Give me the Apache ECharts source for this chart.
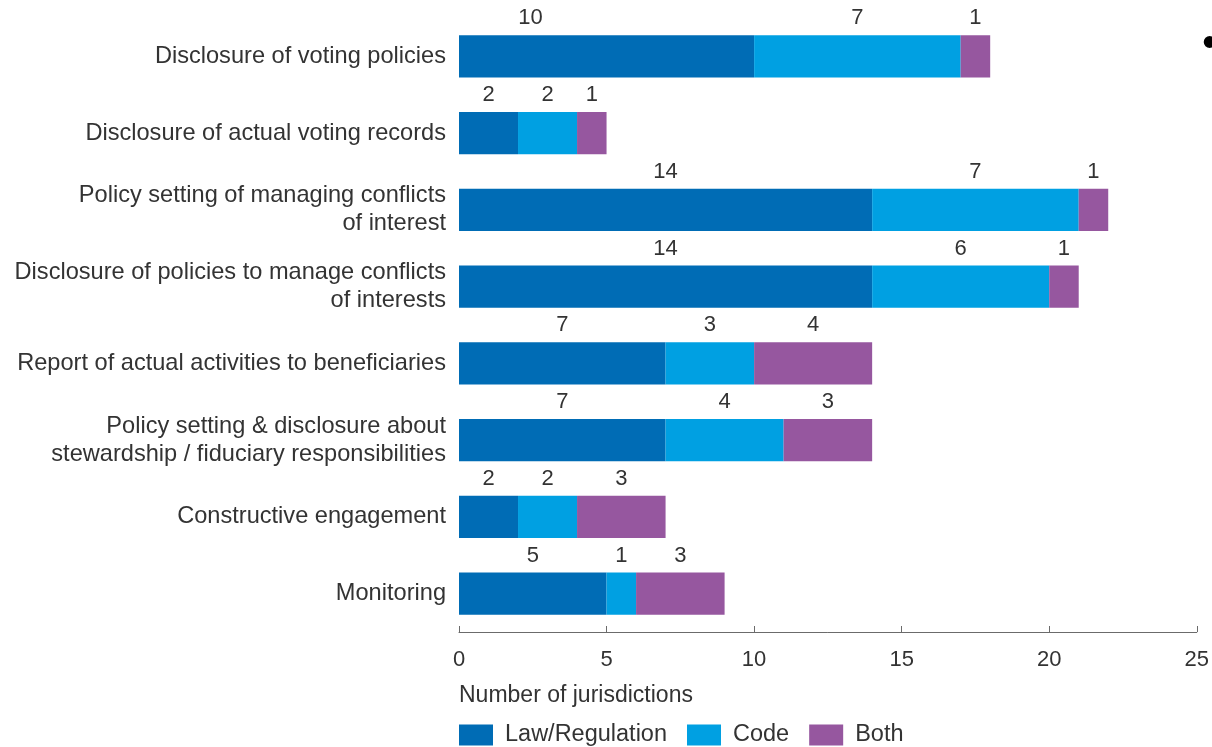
<!DOCTYPE html>
<html>
<head>
<meta charset="utf-8">
<script src="https://cdn.jsdelivr.net/npm/echarts@6/dist/echarts.min.js"></script>
<style>
  html, body { margin: 0; padding: 0; background: #ffffff; }
  #chart { width: 1212px; height: 747px; }
</style>
</head>
<body>
<div id="chart"></div>
<script>
// Stewardship requirements by source of obligation
const categories = [
  'Disclosure of voting policies',
  'Disclosure of actual voting records',
  'Policy setting of managing conflicts\nof interest',
  'Disclosure of policies to manage conflicts\nof interests',
  'Report of actual activities to beneficiaries',
  'Policy setting & disclosure about\nstewardship / fiduciary responsibilities',
  'Constructive engagement',
  'Monitoring'
];
const lawRegulation = [10, 2, 14, 14, 7, 7, 2, 5];
const code = [7, 2, 7, 6, 3, 4, 2, 1];
const both = [1, 1, 1, 1, 4, 3, 3, 3];
const seriesNames = ['Law/Regulation', 'Code', 'Both'];
const xTicks = [0, 5, 10, 15, 20, 25];

const colors = ['#006cb5', '#00a0e2', '#96579f'];
const fontFamily = '"Liberation Sans", Arial, sans-serif';

function buildData(values, seriesIndex) {
  return values.map(function (v, i) {
    const item = { value: v };
    // the first Law/Regulation label sits left of its segment centre
    if (seriesIndex === 0 && i === 0) item.label = { offset: [-76, 0] };
    return item;
  });
}

const chart = echarts.init(document.getElementById('chart'), null, { renderer: 'canvas' });

chart.setOption({
  animation: false,
  backgroundColor: '#ffffff',
  color: colors,
  grid: { left: 459, right: 15, top: 18, bottom: 115, containLabel: false },
  xAxis: {
    type: 'value',
    min: xTicks[0],
    max: xTicks[xTicks.length - 1],
    interval: 5,
    axisLine: { show: true, lineStyle: { color: '#6b6b6b', width: 1 } },
    axisTick: { show: true, inside: true, length: 6, lineStyle: { color: '#6b6b6b' } },
    splitLine: { show: false },
    axisLabel: { color: '#333', fontSize: 22, fontFamily: fontFamily, margin: 17 }
  },
  yAxis: {
    type: 'category',
    data: categories,
    inverse: true,
    axisLine: { show: false },
    axisTick: { show: false },
    axisLabel: {
      color: '#333', fontSize: 23.6, fontFamily: fontFamily, margin: 13,
      align: 'right', lineHeight: 28
    }
  },
  legend: {
    left: 459,
    top: 723,
    padding: 0,
    itemWidth: 34,
    itemHeight: 21,
    itemGap: 20,
    icon: 'rect',
    textStyle: { color: '#333', fontSize: 23.5, fontFamily: fontFamily, padding: [0, 0, 0, 7] },
    data: seriesNames
  },
  graphic: [
    {
      type: 'text', left: 459, top: 684,
      style: { text: 'Number of jurisdictions', fill: '#333', font: '23px ' + fontFamily }
    },
    {
      type: 'text', left: 1202, top: 23,
      style: { text: '\u2022', fill: '#000', font: '44px ' + fontFamily }
    }
  ],
  series: [lawRegulation, code, both].map(function (vals, k) {
    return {
      name: seriesNames[k],
      type: 'bar',
      stack: 'total',
      barWidth: '55%',
      data: buildData(vals, k),
      label: {
        show: true,
        position: 'top',
        distance: 6,
        color: '#333',
        fontSize: 22,
        fontFamily: fontFamily
      },
      itemStyle: { color: colors[k] }
    };
  })
});
</script>
</body>
</html>
